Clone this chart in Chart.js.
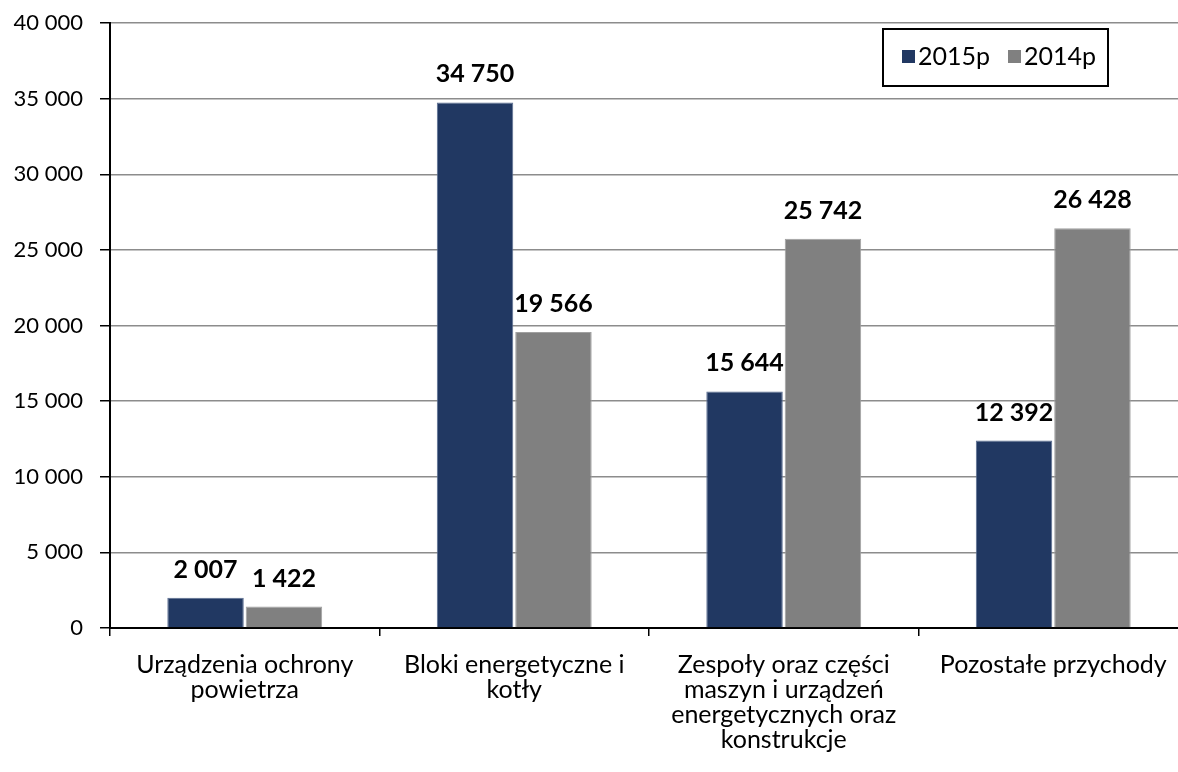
<!DOCTYPE html>
<html><head><meta charset="utf-8">
<script src="https://cdn.jsdelivr.net/npm/chart.js@4/dist/chart.umd.min.js"></script>
<style>html,body{margin:0;padding:0;overflow:hidden;background:#fff}</style>
</head><body>
<canvas id="c" width="1190" height="772"></canvas>
<script>
const categories = [
  ["Urządzenia ochrony","powietrza"],
  ["Bloki energetyczne i","kotły"],
  ["Zespoły oraz części","maszyn i urządzeń","energetycznych oraz","konstrukcje"],
  ["Pozostałe przychody"]
];
const series2015 = [2007, 34750, 15644, 12392];
const series2014 = [1422, 19566, 25742, 26428];
const seriesNames = ["2015p", "2014p"];
const seriesColors = ["#213862", "#808080"];
const yTicks = [0, 5000, 10000, 15000, 20000, 25000, 30000, 35000, 40000];

const FONT = "Lato, 'Open Sans', sans-serif";
const fmt = v => String(v).replace(/\B(?=(\d{3})+(?!\d))/g, "\u00a0");

const labelsPlugin = {
  id: 'vals',
  afterDatasetsDraw(chart) {
    const ctx = chart.ctx;
    ctx.save();
    ctx.font = "bold 25px " + FONT;
    ctx.fillStyle = "#000";
    ctx.textAlign = "center";
    ctx.textBaseline = "middle";
    chart.data.datasets.forEach((ds, i) => {
      chart.getDatasetMeta(i).data.forEach((bar, j) => {
        ctx.fillText(fmt(ds.data[j]), bar.x, bar.y - 28);
      });
    });
    ctx.restore();
  }
};
const legendPlugin = {
  id: 'boxlegend',
  afterDraw(chart) {
    const ctx = chart.ctx;
    ctx.save();
    const x0 = 883, y0 = 29, w = 225, h = 57;
    ctx.fillStyle = "#fff";
    ctx.fillRect(x0, y0, w, h);
    ctx.strokeStyle = "#000";
    ctx.lineWidth = 2;
    ctx.strokeRect(x0, y0, w, h);
    ctx.font = "25px " + FONT;
    ctx.textBaseline = "middle";
    ctx.textAlign = "left";
    let x = 902;
    chart.data.datasets.forEach((ds) => {
      ctx.fillStyle = ds.backgroundColor;
      ctx.fillRect(x, 50, 13, 13);
      ctx.fillStyle = "#000";
      ctx.fillText(ds.label, x + 16, 57);
      x += 106;
    });
    ctx.restore();
  }
};

new Chart(document.getElementById('c'), {
  type: 'bar',
  data: {
    labels: categories,
    datasets: [
      {label: seriesNames[0], data: series2015, backgroundColor: seriesColors[0], borderColor: "#5a6d91", borderWidth: 1},
      {label: seriesNames[1], data: series2014, backgroundColor: seriesColors[1], borderColor: "#a0a0a0", borderWidth: 1}
    ]
  },
  options: {
    responsive: false,
    animation: false,
    layout: {padding: {top: 23, right: 2, left: 0, bottom: 0}},
    categoryPercentage: 0.582,
    barPercentage: 0.975,
    plugins: {legend: {display: false}, tooltip: {enabled: false}},
    scales: {
      x: {
        grid: {display: true, drawOnChartArea: false, offset: true, color: "#000", tickLength: 8, lineWidth: 1.5},
        border: {display: true, color: "#000", width: 2},
        ticks: {color: "#000", font: {family: FONT, size: 25, lineHeight: 1.0}, padding: 16, maxRotation: 0, autoSkip: false},
        afterFit(s) { s.height = 144; s.paddingLeft = 0; s.paddingRight = 0; }
      },
      y: {
        min: 0, max: 40000,
        afterBuildTicks(s) { s.ticks = yTicks.map(v => ({value: v})); },
        grid: {color: "#8c8c8c", lineWidth: 1.5, tickLength: 10, tickColor: "#000"},
        border: {display: true, color: "#000", width: 2},
        ticks: {color: "#000", font: {family: FONT, size: 22}, padding: 17, callback: v => fmt(v)},
        afterFit(s) { s.width = 110; s.paddingTop = 0; s.paddingBottom = 0; }
      }
    }
  },
  plugins: [labelsPlugin, legendPlugin]
});
</script>
</body></html>
